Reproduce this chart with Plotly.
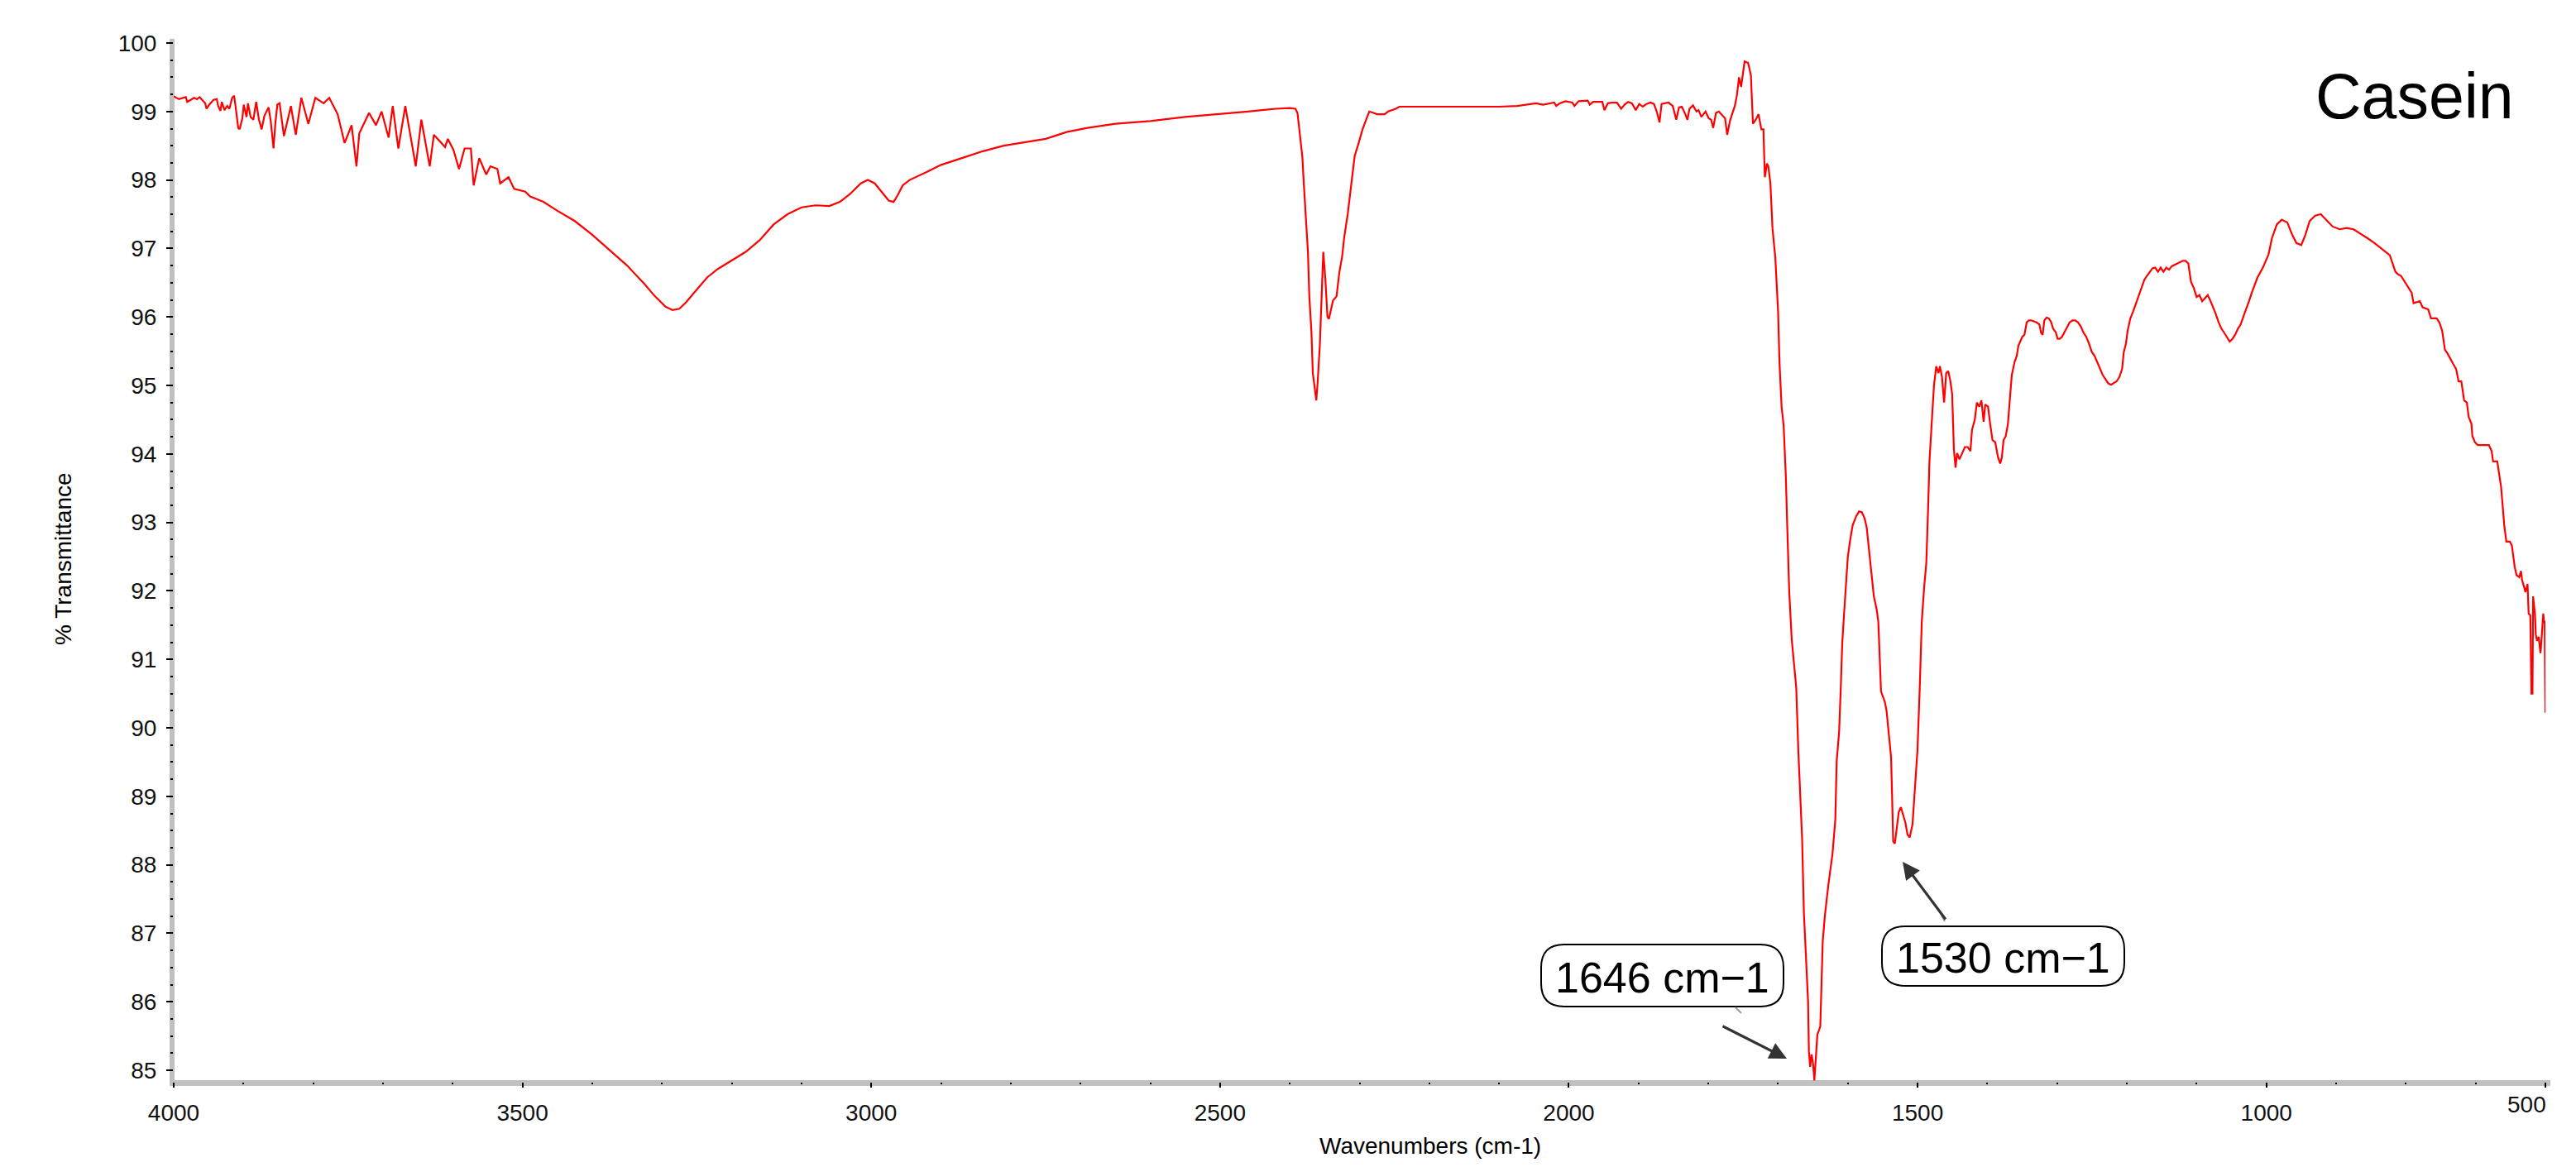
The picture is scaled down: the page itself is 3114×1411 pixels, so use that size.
import plotly.graph_objects as go

# ---------------- data (wavenumber cm-1, % transmittance) ----------------
NOISE_REGION = [
    (4000, 99.22), (3998, 99.21), (3992.5, 99.18), (3982.6, 99.21), (3980.6, 99.14), (3970.7, 99.20),
    (3966.8, 99.18), (3962.8, 99.21), (3958.9, 99.16), (3954.9, 99.12), (3953, 99.04), (3949, 99.10),
    (3943, 99.17), (3938.3, 99.18), (3936.3, 99.08), (3933, 99.01), (3931, 99.14), (3927.3, 99.02),
    (3923.3, 99.08), (3920.2, 99.04), (3916.2, 99.20), (3913.4, 99.23), (3911.4, 99.08), (3907.5, 98.76),
    (3905.5, 98.74), (3901.6, 98.90), (3899.6, 99.10), (3895.6, 98.92), (3893.6, 99.12), (3889.7, 98.92),
    (3885.8, 98.88), (3881.8, 99.14), (3877.8, 98.88), (3873.9, 98.74), (3869.9, 98.94), (3864, 99.06),
    (3860.9, 98.86), (3856.9, 98.46), (3854.2, 98.84), (3851.4, 99.10), (3848.2, 99.12), (3842, 98.64),
    (3832, 99.08), (3825, 98.66), (3817, 99.20), (3807, 98.82), (3797, 99.20), (3785, 99.12),
    (3777, 99.20), (3765, 98.96), (3755, 98.54), (3745, 98.80), (3738, 98.20), (3734, 98.68),
    (3720, 98.98), (3710, 98.80), (3702, 99.00), (3692, 98.62), (3686, 99.08), (3678, 98.46),
    (3668, 99.08), (3653, 98.20), (3645, 98.88), (3633, 98.20), (3627, 98.66), (3611, 98.48),
    (3607, 98.60), (3599, 98.44), (3591, 98.16), (3583, 98.46), (3574, 98.46), (3570, 97.92),
    (3562, 98.32), (3552, 98.08), (3546, 98.20), (3536, 98.16), (3532, 97.95), (3520, 98.04),
    (3512, 97.87), (3496, 97.83), (3489, 97.76),
]

BROAD_BAND = [
    (3470, 97.68), (3450, 97.55), (3425, 97.40), (3400, 97.20), (3375, 96.98), (3350, 96.75),
    (3325, 96.48), (3310, 96.30), (3295, 96.15), (3285, 96.10), (3275, 96.12), (3265, 96.22),
    (3250, 96.40), (3235, 96.58), (3220, 96.70), (3200, 96.82), (3180, 96.95), (3160, 97.12),
    (3140, 97.35), (3120, 97.50), (3100, 97.60), (3080, 97.63), (3060, 97.62), (3045, 97.68),
    (3030, 97.80), (3015, 97.95), (3005, 98.00), (2995, 97.95), (2985, 97.82), (2975, 97.70),
    (2968, 97.68), (2962, 97.78), (2955, 97.92), (2945, 98.00), (2920, 98.12), (2900, 98.22),
    (2870, 98.32), (2840, 98.42), (2810, 98.50), (2780, 98.55), (2750, 98.60), (2720, 98.70),
    (2690, 98.76), (2650, 98.82), (2600, 98.86), (2550, 98.92), (2500, 98.96), (2460, 99.00),
]

CO2_BAND = [
    (2440, 99.02), (2420, 99.04), (2400, 99.05), (2392, 99.04), (2389, 98.98), (2386, 98.72),
    (2382, 98.34), (2380, 97.96), (2377, 97.43), (2374, 96.95), (2372, 96.30), (2369, 95.78),
    (2367, 95.18), (2362, 94.78), (2360, 95.06), (2357, 95.58), (2354, 96.40), (2352, 96.95),
    (2349, 96.55), (2346, 96.00), (2344, 95.97), (2338, 96.24), (2333, 96.30), (2329, 96.65),
    (2325, 96.88), (2322, 97.16), (2317, 97.50), (2312, 97.95), (2307, 98.35), (2301, 98.55),
    (2296, 98.73), (2291, 98.87), (2286, 99.00), (2280, 98.98), (2275, 98.96), (2264, 98.96),
    (2259, 99.00), (2248, 99.04), (2243, 99.07), (2200, 99.07), (2150, 99.07), (2100, 99.07),
    (2074, 99.08),
]

PRE_AMIDE = [
    (2058, 99.10), (2047, 99.12), (2037, 99.10), (2021, 99.13), (2018, 99.08), (2013, 99.12),
    (2005, 99.15), (1995, 99.13), (1992, 99.08), (1986, 99.15), (1973, 99.16), (1970, 99.10),
    (1965, 99.14), (1952, 99.14), (1949, 99.02), (1944, 99.12), (1938, 99.13), (1931, 99.13),
    (1925, 99.04), (1920, 99.10), (1915, 99.14), (1909.5, 99.12), (1904, 99.02), (1899, 99.11),
    (1894, 99.07), (1888.5, 99.11), (1883, 99.13), (1878, 99.11), (1874, 99.00), (1870, 98.84),
    (1867, 99.11), (1857, 99.13), (1851, 99.08), (1846, 98.88), (1842, 99.06), (1838, 99.07),
    (1833, 98.96), (1830, 98.88), (1827, 99.04), (1822, 99.09), (1817, 99.00), (1814, 99.02),
    (1810, 98.92), (1804, 99.00), (1799.5, 98.90), (1796, 98.88), (1793, 98.76), (1789, 98.98),
    (1785, 99.00), (1780, 98.94), (1776, 98.90), (1773, 98.66), (1769, 98.86), (1766, 98.96),
    (1762, 99.08), (1759, 99.24), (1756, 99.50), (1753, 99.36), (1751, 99.50), (1748, 99.73),
    (1743, 99.71), (1739, 99.53), (1736, 98.82), (1732, 98.88), (1728, 98.96), (1724, 98.74),
    (1721, 98.74), (1719, 98.04), (1716, 98.24), (1714, 98.20), (1711, 97.95), (1708, 97.29),
    (1704, 96.87), (1700, 96.08), (1698, 95.34), (1695, 94.69), (1692, 94.41),
]

AMIDE_BANDS = [
    (1689, 93.70), (1687, 92.99), (1684, 91.98), (1680.5, 91.30), (1677, 90.96), (1674, 90.59),
    (1671, 89.67), (1669, 89.21), (1665.5, 88.37), (1663, 87.30), (1661, 86.88), (1659, 86.58),
    (1657, 86.00), (1655.8, 85.27), (1654, 85.05), (1652, 85.23), (1650, 85.11), (1648, 84.85),
    (1646.7, 85.07), (1643.7, 85.52), (1639.5, 85.64), (1637.6, 86.20), (1636, 86.88), (1633, 87.25),
    (1628, 87.70), (1622, 88.16), (1618, 88.65), (1616, 89.51), (1612.5, 89.94), (1610, 90.62),
    (1608, 91.24), (1605, 91.73), (1602, 92.13), (1600, 92.50), (1597, 92.72), (1593, 92.96),
    (1588, 93.09), (1584, 93.16), (1580, 93.15), (1576, 93.06), (1573, 92.93), (1571, 92.72),
    (1568, 92.47), (1566.6, 92.35), (1564.2, 92.04), (1562.7, 91.92), (1558.7, 91.73), (1556.3, 91.55),
    (1552.4, 90.53), (1549, 90.44), (1547, 90.38), (1544.5, 90.25), (1541, 89.88), (1538, 89.57),
    (1536.6, 89.02), (1535, 88.34), (1532.6, 88.31), (1530, 88.56), (1527, 88.77), (1524, 88.84),
    (1521, 88.74), (1517.6, 88.62), (1514.4, 88.44), (1511.3, 88.40), (1507.3, 88.59), (1503.4, 89.21),
    (1500.2, 89.67), (1497, 90.56), (1494, 91.55), (1490.7, 92.04), (1487.5, 92.41), (1485, 93.18),
    (1483, 93.89), (1480, 94.41), (1476.5, 95.00), (1473.3, 95.28), (1470, 95.18), (1468, 95.28),
    (1465, 95.12), (1462, 94.75), (1460.7, 95.00), (1459, 95.18), (1456, 95.21), (1453, 95.06),
    (1450.4, 94.87), (1448, 94.07), (1445.6, 93.80), (1443.3, 94.01), (1440, 93.92), (1436, 94.01),
    (1432.2, 94.10), (1428.2, 94.10), (1424.3, 94.04), (1422, 94.35), (1418, 94.50), (1415, 94.75),
    (1411.6, 94.69), (1408.5, 94.78), (1405.3, 94.47), (1403, 94.72), (1399, 94.69), (1396, 94.44),
    (1392.6, 94.20), (1388.7, 94.17), (1384.7, 93.95), (1381.6, 93.86), (1379.2, 93.95), (1376.8, 94.20),
    (1373.6, 94.26), (1370.5, 94.44), (1367.3, 94.87), (1365, 95.15), (1361, 95.34), (1357.9, 95.43),
    (1355.5, 95.58), (1353, 95.64), (1349.9, 95.71), (1346.8, 95.74), (1343.6, 95.92), (1340.5, 95.95),
    (1337.3, 95.95), (1329.4, 95.92), (1325.4, 95.89), (1323, 95.77), (1320.7, 95.74), (1318.3, 95.95),
    (1315.1, 95.99), (1312, 95.98), (1308.8, 95.93), (1305.7, 95.83), (1301.7, 95.77), (1299.3, 95.68),
    (1296.2, 95.68), (1293, 95.71), (1289.9, 95.77), (1285.9, 95.83), (1282, 95.92), (1278, 95.95),
    (1274, 95.95), (1270, 95.92), (1266, 95.86), (1262.2, 95.77), (1258.2, 95.71), (1254.3, 95.61),
    (1250.3, 95.49), (1246.3, 95.43), (1242.4, 95.34), (1238.4, 95.24), (1234.5, 95.15), (1230.5, 95.09),
    (1226.6, 95.03), (1222.6, 95.01), (1218.7, 95.03), (1214.7, 95.06), (1210.8, 95.12), (1206.8, 95.24),
    (1204.4, 95.49), (1201.3, 95.61), (1198.9, 95.80), (1195, 95.98), (1191, 96.08), (1187, 96.20),
    (1183, 96.32), (1179, 96.42), (1175, 96.54), (1171.2, 96.60), (1167.3, 96.66), (1163.3, 96.71),
    (1159.4, 96.72), (1155.4, 96.66), (1151.5, 96.72), (1147.5, 96.66), (1143.5, 96.72), (1139.6, 96.69),
    (1135.6, 96.74), (1127.7, 96.78), (1119.8, 96.82), (1115.9, 96.82), (1111.9, 96.78), (1108, 96.51),
    (1104, 96.42), (1100, 96.29), (1096, 96.32), (1092, 96.23), (1084, 96.32), (1080, 96.23),
    (1076.3, 96.14), (1072.4, 96.04), (1068.4, 95.92), (1064.5, 95.83), (1060.5, 95.77), (1056.6, 95.71),
    (1052.6, 95.64), (1048.6, 95.68), (1044.7, 95.74), (1040.7, 95.83), (1036.8, 95.89), (1032.8, 96.01),
    (1028.9, 96.11), (1024.9, 96.23), (1021, 96.35), (1017, 96.45), (1013, 96.57), (1005, 96.72),
    (997, 96.91),
]

FINGERPRINT = [
    (992, 97.15), (985, 97.35), (978, 97.42), (970, 97.38), (963, 97.20), (957, 97.08),
    (950, 97.05), (944, 97.20), (938, 97.40), (930, 97.48), (922, 97.50), (914, 97.42),
    (905, 97.32), (895, 97.28), (885, 97.30), (875, 97.28), (865, 97.22), (855, 97.15),
    (845, 97.08), (835, 97.00), (823, 96.90), (815, 96.66), (811, 96.62), (807, 96.60),
    (799.5, 96.48), (791.6, 96.35), (789, 96.20), (780, 96.23), (776, 96.14), (768, 96.11),
    (764, 95.98), (756, 95.98), (752, 95.92), (748, 95.80), (744, 95.52), (740, 95.46),
    (732, 95.31), (728, 95.24), (724.5, 95.06), (720.5, 95.06), (716.5, 94.78), (712.6, 94.75),
    (710, 94.54), (706, 94.44), (704.7, 94.26), (701, 94.17), (697, 94.13), (689, 94.13),
    (681, 94.13), (677, 94.04), (675, 93.89), (669, 93.89), (667, 93.77), (663.5, 93.52),
    (661, 93.21), (659, 92.96), (656, 92.72), (651, 92.72), (648, 92.66), (644, 92.35),
    (641.4, 92.23), (637.5, 92.20), (635, 92.29), (633.5, 92.16), (630, 92.04), (628.7, 91.98),
    (625.6, 92.10), (624, 91.67), (621.6, 91.64), (620, 90.50), (618.5, 90.50), (617.6, 91.92),
    (615, 91.67), (613.7, 91.36), (612, 91.27), (609.7, 91.33), (607, 91.09), (605, 91.36),
    (603, 91.67), (602, 91.55), (601, 91.55), (600, 90.22),
]

X_TICK_VALUES = [4000, 3500, 3000, 2500, 2000, 1500, 1000, 600]
X_TICK_LABELS = ["4000", "3500", "3000", "2500", "2000", "1500", "1000", ""]
X_END_LABEL = "500"
X_MINOR_VALUES = [v for v in range(3900, 600, -100) if v % 500 != 0]
Y_TICK_VALUES = list(range(85, 101))

PEAK_LABELS = ["1646 cm\u22121", "1530 cm\u22121"]
SAMPLE_NAME = "Casein"

# ---------------- assemble series ----------------
spectrum = NOISE_REGION + BROAD_BAND + CO2_BAND + PRE_AMIDE + AMIDE_BANDS + FINGERPRINT
wavenumbers = [p[0] for p in spectrum]
transmittance = [p[1] for p in spectrum]

# ---------------- layout geometry (pixels) ----------------
W, H = 3114, 1411
L, R, T, B = 202, 3069, 40, 1300          # plot-area edges in page pixels
PW, PH = R - L, B - T
FONT = "Arial, 'Liberation Sans', sans-serif"


def px(xp, yp):
    """page pixel -> paper coordinates"""
    return (xp - L) / PW, (B - yp) / PH


def rounded_box(x0, y0, x1, y1, r):
    def P(a, b):
        u, v = px(a, b)
        return f"{u:.6f},{v:.6f}"
    path = (
        f"M {P(x0 + r, y0)} L {P(x1 - r, y0)} Q {P(x1, y0)} {P(x1, y0 + r)} "
        f"L {P(x1, y1 - r)} Q {P(x1, y1)} {P(x1 - r, y1)} "
        f"L {P(x0 + r, y1)} Q {P(x0, y1)} {P(x0, y1 - r)} "
        f"L {P(x0, y0 + r)} Q {P(x0, y0)} {P(x0 + r, y0)} Z"
    )
    return dict(type="path", xref="paper", yref="paper", path=path,
                line=dict(color="#000000", width=2), fillcolor="rgba(255,255,255,0)",
                layer="above")


fig = go.Figure()
fig.add_trace(go.Scatter(
    x=wavenumbers, y=transmittance, mode="lines",
    line=dict(color="#ff0000", width=2.2), hoverinfo="x+y", showlegend=False,
))

shapes = []
# gray axis bars
bx0, by0 = px(197, 1305)
bx1, by1 = px(203, 39)
shapes.append(dict(type="rect", xref="paper", yref="paper", x0=bx0, x1=bx1, y0=by0, y1=by1,
                   fillcolor="#c0c0c0", line=dict(width=0), layer="below"))
cx0, cy0 = px(197, 1305)
cx1, cy1 = px(3075, 1298)
shapes.append(dict(type="rect", xref="paper", yref="paper", x0=cx0, x1=cx1, y0=cy0, y1=cy1,
                   fillcolor="#c0c0c0", line=dict(width=0), layer="below"))
# label boxes
shapes.append(rounded_box(1855, 1134, 2148, 1209, 28))
shapes.append(rounded_box(2267, 1112, 2560, 1184, 28))
# faint leader remnants next to the boxes
for (a0, b0, a1, b1) in [(2090, 1210, 2097, 1217), (2339, 1099, 2343, 1106)]:
    u0, v0 = px(a0, b0)
    u1, v1 = px(a1, b1)
    shapes.append(dict(type="line", xref="paper", yref="paper", x0=u0, y0=v0, x1=u1, y1=v1,
                       line=dict(color="#9a9a9a", width=2)))

annotations = []
# arrows
for tip, (ax, ay) in [((2152, 1272), (-79, -40)), ((2292, 1034), (53, 71))]:
    u, v = px(*tip)
    annotations.append(dict(x=u, y=v, xref="paper", yref="paper", text="", showarrow=True,
                            ax=ax, ay=ay, arrowhead=2, arrowsize=1.3, arrowwidth=3.2,
                            arrowcolor="#333333", standoff=0))
# peak labels
for label, (cx, cy) in zip(PEAK_LABELS, [(2001, 1174), (2413, 1150)]):
    u, v = px(cx, cy)
    annotations.append(dict(x=u, y=v, xref="paper", yref="paper", text=label, showarrow=False,
                            xanchor="center", yanchor="middle",
                            font=dict(family=FONT, size=52, color="#000000")))
# sample name
u, v = px(2911, 108)
annotations.append(dict(x=u, y=v, xref="paper", yref="paper", text=SAMPLE_NAME, showarrow=False,
                        xanchor="center", yanchor="middle",
                        font=dict(family=FONT, size=77, color="#000000")))
# right-aligned end label of the x axis
u, v = px(3072, 1327)
annotations.append(dict(x=u, y=v, xref="paper", yref="paper", text=X_END_LABEL, showarrow=False,
                        xanchor="right", yanchor="middle",
                        font=dict(family=FONT, size=28, color="#111111")))
# axis titles
u, v = px(1721, 1377)
annotations.append(dict(x=u, y=v, xref="paper", yref="paper", text="Wavenumbers (cm-1)",
                        showarrow=False, xanchor="center", yanchor="middle",
                        font=dict(family=FONT, size=28, color="#000000")))
u, v = px(68, 668)
annotations.append(dict(x=u, y=v, xref="paper", yref="paper", text="% Transmittance",
                        showarrow=False, xanchor="center", yanchor="middle", textangle=-90,
                        font=dict(family=FONT, size=28, color="#000000")))

y_top = 100 + (44 - T) / 82.8
y_bot = 100 - (B - 44) / 82.8

fig.update_layout(
    width=W, height=H,
    margin=dict(l=L, r=W - R, t=T, b=H - B, pad=0),
    paper_bgcolor="white", plot_bgcolor="white",
    shapes=shapes, annotations=annotations,
    xaxis=dict(
        range=[4000, 600], showgrid=False, zeroline=False, showline=False,
        tickmode="array", tickvals=X_TICK_VALUES, ticktext=X_TICK_LABELS,
        ticks="outside", ticklen=6, tickwidth=2, tickcolor="#000000",
        ticklabelstandoff=6,
        tickfont=dict(family=FONT, size=28, color="#111111"),
        minor=dict(tickmode="array", tickvals=X_MINOR_VALUES, ticks="outside",
                   ticklen=2, tickwidth=2, tickcolor="#000000", showgrid=False),
    ),
    yaxis=dict(
        range=[y_bot, y_top], showgrid=False, zeroline=False, showline=False,
        tickmode="array", tickvals=Y_TICK_VALUES,
        ticks="outside", ticklen=8, tickwidth=2, tickcolor="#000000",
        ticklabelstandoff=6,
        tickfont=dict(family=FONT, size=28, color="#111111"),
        minor=dict(dtick=0.25, tick0=85, ticks="outside", ticklen=3, tickwidth=2,
                   tickcolor="#000000", showgrid=False),
    ),
)

fig.write_html("out.html")
